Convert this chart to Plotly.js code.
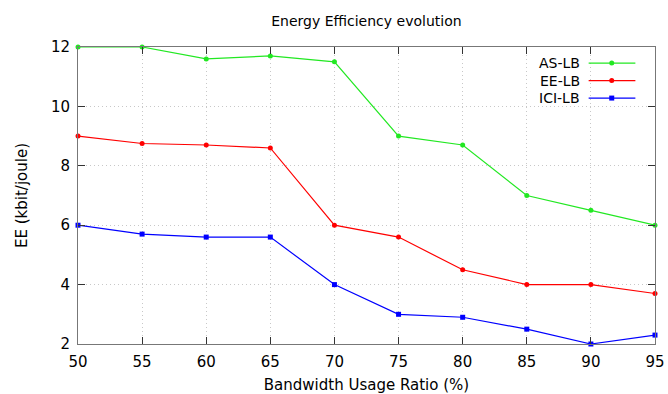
<!DOCTYPE html>
<html>
<head>
<meta charset="utf-8">
<script src="https://cdn.plot.ly/plotly-3.0.1.min.js"></script>
<style>html,body{margin:0;padding:0;background:#fff;}#chart{width:668px;height:394px;}</style>
</head>
<body>
<div id="chart"></div>
<script>
const ratio = [50, 55, 60, 65, 70, 75, 80, 85, 90, 95];
const asLB  = [12, 12, 11.6, 11.7, 11.5, 9, 8.7, 7, 6.5, 6];
const eeLB  = [9, 8.75, 8.7, 8.6, 6, 5.6, 4.5, 4, 4, 3.7];
const iciLB = [6, 5.7, 5.6, 5.6, 4, 3, 2.9, 2.5, 2, 2.3];
const seriesNames = ['AS-LB', 'EE-LB', 'ICI-LB'];
const colors = ['#22e822', '#ff0000', '#0000ff'];
const symbols = ['circle', 'circle', 'square'];
const allY = [asLB, eeLB, iciLB];

const traces = allY.map((ys, i) => ({
  x: ratio, y: ys, name: seriesNames[i], type: 'scatter', mode: 'lines+markers',
  line: {color: colors[i], width: 1.2},
  marker: {color: colors[i], symbol: symbols[i], size: 5},
  showlegend: false, cliponaxis: false
}));

// custom legend (text right-aligned, sample on the right as in reference)
const legendY = [0.946, 0.887, 0.828];
const annotations = [];
const shapes = [];
seriesNames.forEach((n, i) => {
  annotations.push({xref: 'paper', yref: 'paper', x: 0.871, y: legendY[i], text: n,
    showarrow: false, xanchor: 'right', yanchor: 'middle', borderpad: 0,
    font: {family: 'DejaVu Sans', size: 14, color: '#000'}});
  shapes.push({type: 'line', xref: 'paper', yref: 'paper', x0: 0.885, x1: 0.966,
    y0: legendY[i], y1: legendY[i], line: {color: colors[i], width: 1.2}});
});
traces.push(...seriesNames.map((n, i) => ({
  x: [0.925], y: [legendY[i]], xaxis: 'x2', yaxis: 'y2', type: 'scatter', mode: 'markers',
  marker: {color: colors[i], symbol: symbols[i], size: 5}, showlegend: false, hoverinfo: 'skip'
})));

const axisCommon = {
  showline: true, linecolor: '#777', linewidth: 1, mirror: 'ticks',
  ticks: 'inside', ticklen: 7, tickcolor: '#333',
  showgrid: true, gridcolor: '#c8c8c8', griddash: '1px,3px', gridwidth: 1,
  zeroline: false, tickfont: {family: 'DejaVu Sans', size: 15, color: '#000'}
};

const layout = {
  width: 668, height: 394,
  margin: {l: 78, r: 13, t: 47, b: 50},
  paper_bgcolor: '#fff', plot_bgcolor: '#fff',
  title: {text: 'Energy Efficiency evolution', x: 0.5485, xanchor: 'center', y: 0.947, yanchor: 'middle',
    font: {family: 'DejaVu Sans', size: 14, color: '#000'}},
  xaxis: Object.assign({}, axisCommon, {range: [50, 95], tickvals: ratio, ticktext: ratio.map(String),
    ticklabelstandoff: 4,
    title: {text: 'Bandwidth Usage Ratio (%)', standoff: 16, font: {family: 'DejaVu Sans', size: 15, color: '#000'}}}),
  yaxis: Object.assign({}, axisCommon, {range: [2, 12], dtick: 2, ticklabelstandoff: 4,
    title: {text: 'EE (kbit/joule)', standoff: 19, font: {family: 'DejaVu Sans', size: 15, color: '#000'}}}),
  xaxis2: {domain: [0, 1], range: [0, 1], visible: false, overlaying: 'x', anchor: 'y2'},
  yaxis2: {domain: [0, 1], range: [0, 1], visible: false, overlaying: 'y', anchor: 'x2'},
  annotations: annotations, shapes: shapes, showlegend: false
};

Plotly.newPlot('chart', traces, layout, {displayModeBar: false, staticPlot: true});
</script>
</body>
</html>
